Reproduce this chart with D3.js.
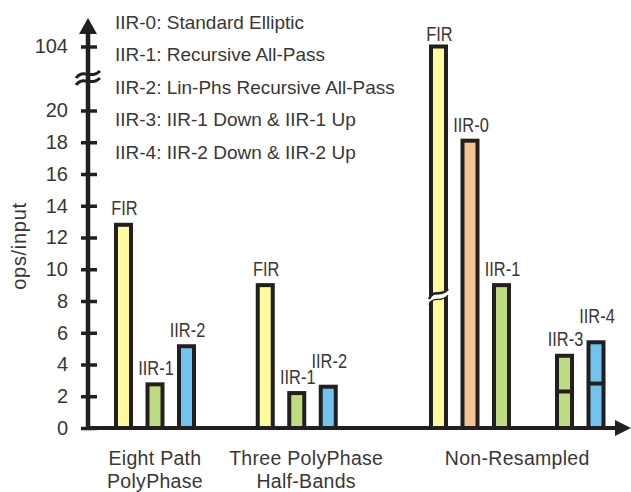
<!DOCTYPE html>
<html><head><meta charset="utf-8">
<script src="https://cdn.jsdelivr.net/npm/d3@7"></script>
<style>
html,body{margin:0;padding:0;background:#fff;}
svg{display:block;}
text{font-family:"Liberation Sans",Arial,sans-serif;fill:#3a3636;}
</style></head><body>
<svg id="chart" width="631" height="492"></svg>
<script>
// ---------- data ----------
const seriesNames = ["FIR", "IIR-0", "IIR-1", "IIR-2", "IIR-3", "IIR-4"];
const categories = ["Eight Path PolyPhase", "Three PolyPhase Half-Bands", "Non-Resampled"];
const categoryLines = [["Eight Path", "PolyPhase"], ["Three PolyPhase", "Half-Bands"], ["Non-Resampled"]];
const eightPathSeries = ["FIR", "IIR-1", "IIR-2"];
const eightPathValues = [12.8, 2.75, 5.15];
const threeBandSeries = ["FIR", "IIR-1", "IIR-2"];
const threeBandValues = [9.0, 2.2, 2.6];
const nonResampledSeries = ["FIR", "IIR-0", "IIR-1", "IIR-2", "IIR-3", "IIR-4"];
const nonResampledValues = [104, 18.1, 9.0, null, 4.55, 5.4];
const nonResampledDownPart = [null, null, null, null, 2.3, 2.8];
const legendEntries = [
  "IIR-0: Standard Elliptic",
  "IIR-1: Recursive All-Pass",
  "IIR-2: Lin-Phs Recursive All-Pass",
  "IIR-3: IIR-1 Down & IIR-1 Up",
  "IIR-4: IIR-2 Down & IIR-2 Up"
];
const yTickValues = [0, 2, 4, 6, 8, 10, 12, 14, 16, 18, 20, 104];
const yAxisTitle = "ops/input";

// ---------- styles / layout ----------
const ink = "#231f20";
const colorOf = d3.scaleOrdinal().domain(seriesNames)
  .range(["#fffa9c", "#f4c591", "#bedc80", "#72c3ee", "#bedc80", "#72c3ee"]);
const groups = [
  {series: eightPathSeries, values: eightPathValues, down: eightPathValues.map(() => null)},
  {series: threeBandSeries, values: threeBandValues, down: threeBandValues.map(() => null)},
  {series: nonResampledSeries, values: nonResampledValues, down: nonResampledDownPart}
];
const groupStartSlot = [0, 4.5, 10];
const labelSlot = [1, 5.8, 12.5];
const labelLift = {"1|IIR-2": 9, "2|IIR-4": 10, "2|FIR": -4, "2|IIR-0": -1};
const barBreakValue = 8.25;

const svg = d3.select("#chart");
const x = d3.scaleLinear().domain([0, 15]).range([123.5, 596]);
const y = d3.scaleLinear().domain([0, 20, 104]).range([428, 110.5, 46.5]);
const barW = 15;

// ---------- bars ----------
const bars = [];
groups.forEach((g, gi) => {
  g.series.forEach((s, i) => {
    const v = g.values[i];
    if (v == null) return;
    bars.push({gi, s, v, down: g.down[i], cx: x(groupStartSlot[gi] + i)});
  });
});

const barG = svg.append("g");
barG.selectAll("rect").data(bars).join("rect")
  .attr("x", d => d.cx - barW / 2)
  .attr("y", d => y(d.v))
  .attr("width", barW)
  .attr("height", d => y(0) - y(d.v))
  .attr("fill", d => colorOf(d.s))
  .attr("stroke", ink).attr("stroke-width", 4);

barG.selectAll("line.split").data(bars.filter(d => d.down != null)).join("line")
  .attr("class", "split")
  .attr("x1", d => d.cx - barW / 2).attr("x2", d => d.cx + barW / 2)
  .attr("y1", d => y(d.down)).attr("y2", d => y(d.down))
  .attr("stroke", ink).attr("stroke-width", 4);

// break on the tall FIR bar
const tall = bars.find(d => d.v > 20);
if (tall) {
  const by = y(barBreakValue), cx = tall.cx, hw = barW / 2 + 4;
  barG.append("path")
    .attr("d", `M${cx - hw},${by + 2} C${cx - 4},${by - 9} ${cx + 2},${by + 1} ${cx + hw},${by - 9} L${cx + hw},${by - 3} C${cx + 2},${by + 7} ${cx - 4},${by - 3} ${cx - hw},${by + 8} Z`)
    .attr("fill", "#fff");
  barG.append("path").attr("d", `M${cx - hw + 2},${by + 2} C${cx - 4},${by - 9} ${cx + 2},${by + 1} ${cx + hw - 2},${by - 8}`)
    .attr("fill", "none").attr("stroke", ink).attr("stroke-width", 2.5);
  barG.append("path").attr("d", `M${cx - hw + 2},${by + 8} C${cx - 4},${by - 3} ${cx + 2},${by + 7} ${cx + hw - 2},${by - 2}`)
    .attr("fill", "none").attr("stroke", ink).attr("stroke-width", 1.2);
}

// bar labels (horizontally condensed like the original type)
barG.selectAll("text.lbl").data(bars).join("text")
  .attr("class", "lbl")
  .attr("transform", d => `translate(${d.cx + 1},${y(d.v) - 9.5 - (labelLift[d.gi + "|" + d.s] || 0)}) scale(0.82,1)`)
  .attr("text-anchor", "middle")
  .style("font-size", "20px")
  .text(d => d.s);

// ---------- axes ----------
const axisX0 = 88;
const yAxis = d3.axisLeft(y).tickValues(yTickValues).tickSize(16).tickPadding(13).tickFormat(d3.format("d"));
const ya = svg.append("g").attr("transform", `translate(${axisX0 + 9},0)`).call(yAxis);
ya.select(".domain").remove();
ya.selectAll(".tick line").attr("stroke", ink).attr("stroke-width", 3.5);
ya.selectAll(".tick text").style("font-family", "'Liberation Sans',Arial,sans-serif")
  .style("font-size", "20px").attr("fill", "#3a3636");

// y axis line + arrow
svg.append("line").attr("x1", axisX0).attr("x2", axisX0).attr("y1", y(0) + 2).attr("y2", 30)
  .attr("stroke", ink).attr("stroke-width", 4.5);
svg.append("path").attr("d", `M${axisX0},18 L${axisX0 + 9},34 L${axisX0 - 9},34 Z`).attr("fill", ink);

// x axis line + arrow
svg.append("line").attr("x1", axisX0 - 2).attr("x2", 618).attr("y1", y(0)).attr("y2", y(0))
  .attr("stroke", ink).attr("stroke-width", 4);
svg.append("path").attr("d", `M631,${y(0)} L615,${y(0) - 8} L615,${y(0) + 8} Z`).attr("fill", ink);

// y axis break symbol
const ybY = (y(20) + y(104)) / 2;
[-3.5, 3.5].forEach(off => {
  svg.append("path")
    .attr("d", `M${axisX0 - 12},${ybY + off + 3} C${axisX0 - 5},${ybY + off - 7} ${axisX0 + 3},${ybY + off + 5} ${axisX0 + 12},${ybY + off - 4}`)
    .attr("fill", "none").attr("stroke", ink).attr("stroke-width", 3);
});

// y title
svg.append("text")
  .attr("transform", `translate(26,246) rotate(-90)`)
  .attr("text-anchor", "middle")
  .style("font-size", "20px").style("letter-spacing", "0.7px")
  .text(yAxisTitle);

// category labels
categoryLines.forEach((lines, gi) => {
  const t = svg.append("text").attr("text-anchor", "middle")
    .style("font-size", "19.5px").style("letter-spacing", "0.3px");
  lines.forEach((ln, li) => {
    t.append("tspan").attr("x", x(labelSlot[gi])).attr("y", 465 + li * 22.5).text(ln);
  });
});

// legend text
svg.append("g").selectAll("text").data(legendEntries).join("text")
  .attr("x", 115).attr("y", (d, i) => 29 + i * 32.4)
  .style("font-size", "19px")
  .text(d => d);
</script>
</body></html>
